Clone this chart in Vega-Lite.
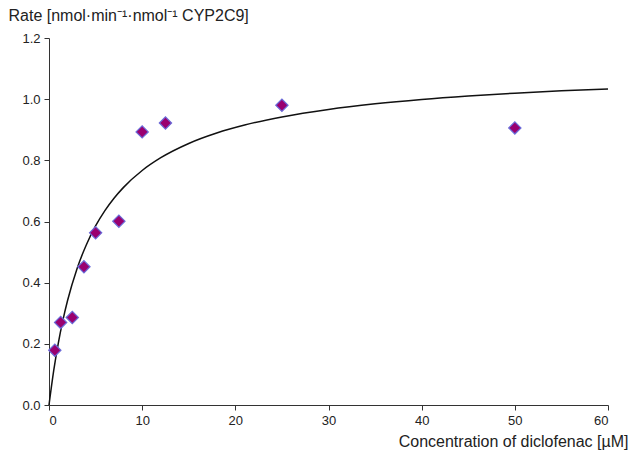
{
  "$schema": "https://vega.github.io/schema/vega-lite/v6.json",
  "width": 559,
  "height": 367,
  "autosize": "none",
  "padding": {"left": 49, "top": 38, "right": 22, "bottom": 47},
  "background": "white",
  "config": {
    "view": {"stroke": null},
    "font": "Liberation Sans",
    "axis": {"grid": false, "domainColor": "#333", "tickColor": "#333", "labelColor": "#222", "titleColor": "#222", "labelFont": "Liberation Sans", "titleFont": "Liberation Sans", "titleFontWeight": "normal"}
  },
  "datasets": {
    "obs": [
      {"conc": 0.625, "rate": 0.179},
      {"conc": 1.25, "rate": 0.27},
      {"conc": 2.5, "rate": 0.286},
      {"conc": 3.75, "rate": 0.452},
      {"conc": 5, "rate": 0.563},
      {"conc": 7.5, "rate": 0.601},
      {"conc": 10, "rate": 0.893},
      {"conc": 12.5, "rate": 0.922},
      {"conc": 25, "rate": 0.98},
      {"conc": 50, "rate": 0.906}
    ],
    "fit": [
      {"conc": 0, "rate": 0},
      {"conc": 0.5, "rate": 0.1113},
      {"conc": 1, "rate": 0.2024},
      {"conc": 1.5, "rate": 0.2782},
      {"conc": 2, "rate": 0.3424},
      {"conc": 3, "rate": 0.445},
      {"conc": 4, "rate": 0.5234},
      {"conc": 5, "rate": 0.5854},
      {"conc": 6, "rate": 0.6355},
      {"conc": 7, "rate": 0.6769},
      {"conc": 8, "rate": 0.7116},
      {"conc": 10, "rate": 0.7667},
      {"conc": 12, "rate": 0.8085},
      {"conc": 15, "rate": 0.8551},
      {"conc": 18, "rate": 0.8892},
      {"conc": 21, "rate": 0.9153},
      {"conc": 25, "rate": 0.9418},
      {"conc": 30, "rate": 0.9664},
      {"conc": 35, "rate": 0.9847},
      {"conc": 40, "rate": 0.9989},
      {"conc": 45, "rate": 1.0102},
      {"conc": 50, "rate": 1.0195},
      {"conc": 55, "rate": 1.0272},
      {"conc": 60, "rate": 1.0336}
    ]
  },
  "layer": [
    {
      "data": {"name": "fit"},
      "mark": {"type": "line", "color": "#111", "strokeWidth": 1.5, "interpolate": "monotone"},
      "encoding": {
        "x": {"field": "conc", "type": "quantitative", "scale": {"domain": [0, 60], "nice": false},
          "axis": {"values": [0, 10, 20, 30, 40, 50, 60], "labelFontSize": 13, "tickSize": 5, "labelPadding": 4,
            "title": "Concentration of diclofenac [µM]", "titleFontSize": 16, "titleAnchor": null, "titleAlign": "right", "titleX": 579, "titleY": 41, "titleBaseline": "alphabetic"}},
        "y": {"field": "rate", "type": "quantitative", "scale": {"domain": [0, 1.2], "nice": false},
          "axis": {"values": [0, 0.2, 0.4, 0.6, 0.8, 1.0, 1.2], "format": ".1f", "labelFontSize": 13, "tickSize": 5, "labelPadding": 4,
            "title": "Rate [nmol·min⁻¹·nmol⁻¹ CYP2C9]", "titleFontSize": 16, "titleAngle": 0, "titleAlign": "left", "titleAnchor": null, "titleX": -41, "titleY": -18, "titleBaseline": "alphabetic"}}
      }
    },
    {
      "data": {"name": "obs"},
      "mark": {"type": "point", "shape": "diamond", "filled": true, "size": 150, "fill": "#990070", "stroke": "#6a6ad8", "strokeWidth": 1.2, "opacity": 1},
      "encoding": {
        "x": {"field": "conc", "type": "quantitative"},
        "y": {"field": "rate", "type": "quantitative"}
      }
    }
  ]
}
